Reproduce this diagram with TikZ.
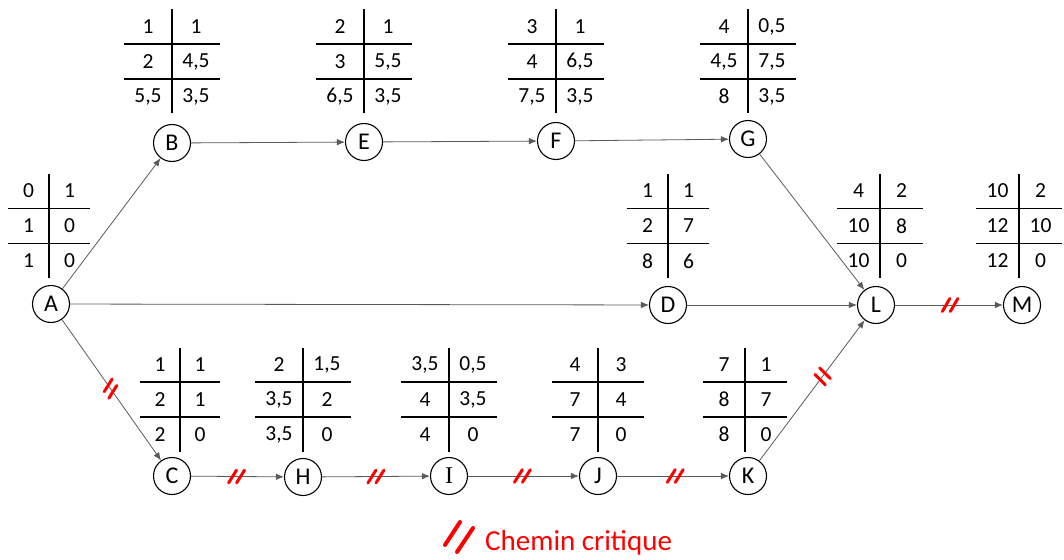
\documentclass[tikz,border=0pt]{standalone}
\usepackage{fontspec}
\setmainfont{Carlito}
\newfontfamily\serifI{Liberation Serif}
\usetikzlibrary{arrows.meta,calc}
\definecolor{edgegray}{HTML}{5A5A5A}
\definecolor{critred}{HTML}{FF0000}
\tikzset{
  evt/.style={circle,draw=black,line width=1.1pt,minimum size=37pt,inner sep=0pt,font=\fontsize{24}{27}\selectfont},
  edge/.style={draw=edgegray,line width=0.8pt,-{Latex[length=8pt,width=6.5pt]}},
  tabline/.style={draw=black,line width=1.4pt},
  tabtxt/.style={inner sep=0pt,font=\fontsize{21.5}{24}\selectfont},
  critline/.style={draw=critred,line width=3pt,line cap=round},
}
\newcommand\ntab[9]{%
  \begin{scope}[shift={(#2)}]
    \draw[tabline] (0,-52) -- (0,52);
    \draw[tabline] (-#3,-17.5) -- (#3,-17.5);
    \draw[tabline] (-#3,17.5) -- (#3,17.5);
    \node[tabtxt] (#1a) at (-#3/2,-35) {#4};
    \node[tabtxt] (#1b) at (#3/2,-35) {#5};
    \node[tabtxt] (#1c) at (-#3/2,0) {#6};
    \node[tabtxt] (#1d) at (#3/2,0) {#7};
    \node[tabtxt] (#1e) at (-#3/2,35) {#8};
    \node[tabtxt] (#1f) at (#3/2,35) {#9};
  \end{scope}}
% #1 point, #2 edge angle (screen coords), #3 slash angle (screen coords)
\newcommand\crit[3]{%
  \draw[critline] ($(#1)+(#2:-4)+(#3:-7.5)$) -- ($(#1)+(#2:-4)+(#3:7.5)$);
  \draw[critline] ($(#1)+(#2:4)+(#3:-7.5)$) -- ($(#1)+(#2:4)+(#3:7.5)$);}
\begin{document}
\begin{tikzpicture}[x=1pt,y=-1pt]
\useasboundingbox (0,0) rectangle (1064,559);
% event nodes
\node[evt] (A) at (51,304) {A};
\node[evt] (B) at (172,143) {B};
\node[evt] (E) at (364,142) {E};
\node[evt] (F) at (556,141) {F};
\node[evt] (G) at (748,139) {G};
\node[evt] (D) at (668,305) {D};
\node[evt] (L) at (876,305) {L};
\node[evt] (M) at (1022,305) {M};
\node[evt] (C) at (172,476) {C};
\node[evt] (H) at (303,477) {H};
\node[evt] (I) at (449,476) {\serifI I};
\node[evt] (J) at (598,476) {J};
\node[evt] (K) at (748,476) {K};
% tables
\ntab{tA}{49,226}{41}{0}{1}{1}{0}{1}{0}
\ntab{tB}{172,61.5}{48}{1}{1}{2}{4,5}{5,5}{3,5}
\ntab{tE}{364,61.5}{48}{2}{1}{3}{5,5}{6,5}{3,5}
\ntab{tF}{556,61.5}{48}{3}{1}{4}{6,5}{7,5}{3,5}
\ntab{tG}{748,61.5}{48}{4}{0,5}{4,5}{7,5}{8}{3,5}
\ntab{tD}{668,226}{41}{1}{1}{2}{7}{8}{6}
\ntab{tL}{880,226}{43}{4}{2}{10}{8}{10}{0}
\ntab{tM}{1019,226}{43}{10}{2}{12}{10}{12}{0}
\ntab{tC}{180,399.5}{40}{1}{1}{2}{1}{2}{0}
\ntab{tH}{303,399.5}{48}{2}{1,5}{3,5}{2}{3,5}{0}
\ntab{tI}{449,399.5}{48}{3,5}{0,5}{4}{3,5}{4}{0}
\ntab{tJ}{598,399.5}{46}{4}{3}{7}{4}{7}{0}
\ntab{tK}{745,399.5}{42}{7}{1}{8}{7}{8}{0}
% edges
\draw[edge] (A) -- (B);
\draw[edge] (B) -- (E);
\draw[edge] (E) -- (F);
\draw[edge] (F) -- (G);
\draw[edge] (G) -- (L);
\draw[edge] (A) -- (D);
\draw[edge] (D) -- (L);
\draw[edge] (L) -- coordinate[pos=0.51] (mLM) (M);
\draw[edge] (A) -- coordinate[pos=0.49] (mAC) (C);
\draw[edge] (C) -- coordinate[pos=0.49] (mCH) (H);
\draw[edge] (H) -- coordinate[pos=0.5] (mHI) (I);
\draw[edge] (I) -- coordinate[pos=0.49] (mIJ) (J);
\draw[edge] (J) -- coordinate[pos=0.52] (mJK) (K);
\draw[edge] (K) -- coordinate[pos=0.6] (mKL) (L);
% critical path marks
\crit{mAC}{55}{-58}
\crit{mCH}{0}{-58}
\crit{mHI}{0}{-58}
\crit{mIJ}{0}{-58}
\crit{mJK}{0}{-58}
\crit{mKL}{-53}{45}
\crit{mLM}{0}{-60}
% legend
\draw[critline,line width=4pt] (445,545) -- (460,522);
\draw[critline,line width=4pt] (457,552) -- (473,528);
\node[anchor=base west,inner sep=0pt,text=critred,font=\fontsize{29}{32}\selectfont] (leg) at (485,550) {Chemin critique};
\end{tikzpicture}
\end{document}
